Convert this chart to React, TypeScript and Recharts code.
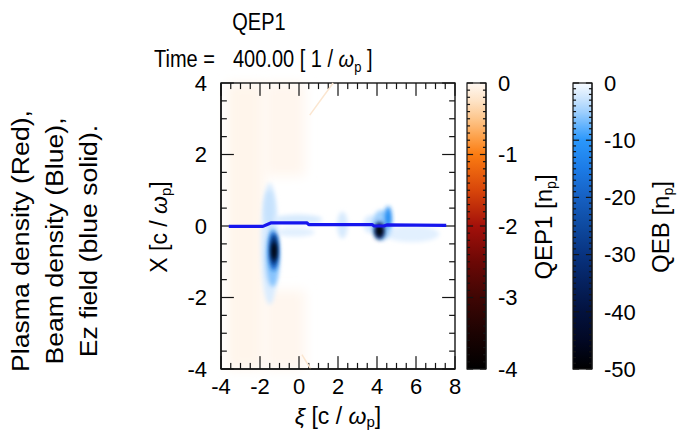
import { ComposedChart, Line, Area, XAxis, YAxis, ReferenceArea } from 'recharts'

const FONT = '"Liberation Sans", Arial, Helvetica, sans-serif'
const INK = 'rgb(20,20,20)'
const BLACK = 'rgb(0,0,0)'

// Ez field lineout (blue solid): xi -> X
const ezXi = [-3.6, -1.85, -1.6, -1.42, 0.4, 0.5, 3.75, 3.85, 4.35, 4.5, 7.55]
const ezX = [-0.01, -0.01, 0.05, 0.09, 0.09, 0.04, 0.04, 0.0, 0.0, 0.03, 0.02]

// faint plasma sheath traces (QEP1)
const sheathTopXi = [0.55, 1.75]
const sheathTopX = [3.1, 4.0]
const sheathBotXi = [0.15, 0.6]
const sheathBotX = [-3.6, -4.0]

// beam density patches (QEB), ranges in xi / X, value in n_p
const beamPatches = [
  { xi: [-1.95, -1.05], x: [-2.2, 1.2], q: -1.8 },
  { xi: [-1.8, -1.25], x: [-0.1, 1.0], q: -3 },
  { xi: [-1.7, -1.0], x: [-1.7, -0.05], q: -6 },
  { xi: [-1.3, 1.2], x: [0.05, 0.32], q: -2 },
  { xi: [-1.2, 0.8], x: [-0.3, -0.05], q: -1.3 },
  { xi: [1.95, 2.5], x: [-0.35, 0.4], q: -2 },
  { xi: [3.3, 4.0], x: [-0.2, 0.3], q: -1.8 },
  { xi: [4.4, 7.2], x: [-0.45, 0.0], q: -1.3 },
  { xi: [-1.55, -1.05], x: [-1.25, -0.15], q: -18 },
  { xi: [-1.45, -1.12], x: [-1.1, -0.25], q: -35 },
  { xi: [-1.4, -1.15], x: [-0.95, -0.45], q: -50 },
  { xi: [3.75, 4.75], x: [-0.4, 0.45], q: -5 },
  { xi: [4.4, 4.75], x: [-0.05, 0.55], q: -12 },
  { xi: [3.85, 4.4], x: [-0.38, 0.12], q: -30 },
  { xi: [3.95, 4.3], x: [-0.3, 0.02], q: -50 },
]

// plasma density patches (QEP1)
const plasmaPatches = [
  { xi: [-3.7, -1.8], x: [-4, 4], q: -0.04 },
  { xi: [-1.8, 0.3], x: [1.4, 4], q: -0.025 },
  { xi: [-1.8, 0.3], x: [-4, -1.8], q: -0.025 },
]

// tick labels
const xiLabels = [-4, -2, 0, 2, 4, 6, 8]
const xLabels = [-4, -2, 0, 2, 4]
const qep1Labels = [0, -1, -2, -3, -4]
const qebLabels = [0, -10, -20, -30, -40, -50]

// colour tables
const qep1Levels = [0, -0.25, -0.5, -0.75, -1, -1.5, -2, -2.5, -3, -3.5, -4]
const qep1Colors = ['#fff8f2', '#fee3c6', '#fdc68c', '#fda24c', '#fb7c12', '#d8460a', '#a3100a', '#6c0805', '#3f0604', '#1c0302', '#000000']
const qebLevels = [0, -2.5, -5, -7.5, -10, -15, -20, -25, -30, -35, -40, -45, -50]
const qebColors = ['#f7fbff', '#cfe6fd', '#a0d0fd', '#63b3fd', '#2a97fb', '#1c7be6', '#1660c2', '#0e4aa0', '#083380', '#05215e', '#03123e', '#020824', '#000000']

const range = (a: number, b: number, s: number) => {
  const out: number[] = []
  for (let v = a; v <= b + 1e-9; v += s) out.push(Math.round(v * 100) / 100)
  return out
}
const xiTicks = range(-4, 8, 0.5)
const xTicks = range(-4, 4, 0.5)
const qep1Ticks = range(-4, 0, 0.1)
const qebTicks = range(-50, 0, 1)

const isMajor = (v: number, majors: number[]) => majors.some((m) => Math.abs(m - v) < 1e-6)

function hex(c: string) {
  return [1, 3, 5].map((i) => parseInt(c.slice(i, i + 2), 16))
}
function rgb(c: number[]) {
  return `rgb(${c.map((v) => Math.round(v)).join(',')})`
}
function colorAt(levels: number[], colors: string[], q: number) {
  for (let i = 0; i < levels.length - 1; i++) {
    if (q <= levels[i] && q >= levels[i + 1]) {
      const t = (levels[i] - q) / (levels[i] - levels[i + 1])
      const a = hex(colors[i])
      const b = hex(colors[i + 1])
      return rgb(a.map((v, k) => v + (b[k] - v) * t))
    }
  }
  return rgb(hex(colors[colors.length - 1]))
}

// shapes for ReferenceArea
const blob = (p: any) => (
  <ellipse cx={p.x + p.width / 2} cy={p.y + p.height / 2} rx={p.width / 2} ry={p.height / 2}
    fill={p.fill} filter="url(#soft)" />
)
const haze = (p: any) => (
  <rect x={p.x} y={p.y} width={p.width} height={p.height} fill={p.fill} filter="url(#haze)" />
)
const frameShape = (w: number) => (p: any) => (
  <rect x={p.x} y={p.y} width={p.width} height={p.height} fill="none" stroke={INK} strokeWidth={w} />
)
const vTick = (p: any) => <rect x={p.x + p.width / 2 - 0.6} y={p.y} width={1.2} height={p.height} fill={INK} />
const hTick = (p: any) => <rect x={p.x} y={p.y + p.height / 2 - 0.6} width={p.width} height={1.2} fill={INK} />

// inward tick marks, each one a thin reference area
function tickAreas(
  prefix: string, ticks: number[], majors: number[], lens: number[], vertical: boolean,
  edge: number, dir: number, half: number, ax: { xAxisId: string; yAxisId: string },
) {
  return ticks.map((v) => {
    const len = isMajor(v, majors) ? lens[1] : lens[0]
    const a = Math.min(edge, edge + dir * len)
    const b = Math.max(edge, edge + dir * len)
    return vertical ? (
      <ReferenceArea key={prefix + v} {...ax} ifOverflow="visible" x1={v - half} x2={v + half} y1={a} y2={b} shape={vTick} />
    ) : (
      <ReferenceArea key={prefix + v} {...ax} ifOverflow="visible" x1={a} x2={b} y1={v - half} y2={v + half} shape={hTick} />
    )
  })
}

// inward tick lengths in data units (minor, major)
const XI_TICK = [0.3, 0.66]
const X_TICK = [0.17, 0.36]

function MainPlot() {
  const ez = ezXi.map((xi, i) => ({ xi, x: ezX[i] }))
  const top = sheathTopXi.map((xi, i) => ({ xi, x: sheathTopX[i] }))
  const bot = sheathBotXi.map((xi, i) => ({ xi, x: sheathBotX[i] }))
  const tickStyle = { fontSize: 22, fill: BLACK, fontFamily: FONT }
  const ids = { xAxisId: 'xb', yAxisId: 'yl' }
  const ax = { ...ids, ifOverflow: 'visible' as const }
  const ln = { ...ids, dataKey: 'x', dot: false, activeDot: false, isAnimationActive: false, type: 'linear' as const }
  return (
    <ComposedChart width={679} height={432} margin={{ top: 83, right: 224, bottom: 33, left: 161 }}>
      <defs>
        <filter id="soft" x="-60%" y="-60%" width="220%" height="220%">
          <feGaussianBlur stdDeviation="2.2" />
        </filter>
        <filter id="haze" x="-30%" y="-30%" width="160%" height="160%">
          <feGaussianBlur stdDeviation="6" />
        </filter>
      </defs>
      <XAxis xAxisId="xb" dataKey="xi" type="number" orientation="bottom" domain={[-4, 8]}
        ticks={xiLabels} interval={0} height={30} tickSize={4} tickMargin={5} tickLine={false}
        axisLine={{ stroke: INK, strokeWidth: 1.4 }} tick={tickStyle} />
      <YAxis yAxisId="yl" type="number" orientation="left" domain={[-4, 4]}
        ticks={xLabels} interval={0} width={60} tickSize={4} tickMargin={10} tickLine={false}
        axisLine={{ stroke: INK, strokeWidth: 1.4 }} tick={tickStyle} />
      {plasmaPatches.map((p, i) => (
        <ReferenceArea key={'p' + i} {...ax} x1={p.xi[0]} x2={p.xi[1]} y1={p.x[0]} y2={p.x[1]}
          fill={colorAt(qep1Levels, qep1Colors, p.q)} stroke="none" shape={haze} />
      ))}
      <Line {...ln} data={top} stroke="rgb(251,230,208)" strokeWidth={1.5} />
      <Line {...ln} data={bot} stroke="rgb(251,230,208)" strokeWidth={1.5} />
      {beamPatches.map((p, i) => (
        <ReferenceArea key={'b' + i} {...ax} x1={p.xi[0]} x2={p.xi[1]} y1={p.x[0]} y2={p.x[1]}
          fill={colorAt(qebLevels, qebColors, p.q)} stroke="none" shape={blob} />
      ))}
      <ReferenceArea {...ax} x1={-4} x2={8} y1={-4} y2={4} fill="none" shape={frameShape(1.4)} />
      {tickAreas('xb', xiTicks, xiLabels, X_TICK, true, -4, 1, 0.01, ids)}
      {tickAreas('xt', xiTicks, xiLabels, X_TICK, true, 4, -1, 0.01, ids)}
      {tickAreas('yl', xTicks, xLabels, XI_TICK, false, -4, 1, 0.005, ids)}
      {tickAreas('yr', xTicks, xLabels, XI_TICK, false, 8, -1, 0.005, ids)}
      <Line {...ln} data={ez} stroke="rgb(22,22,238)" strokeWidth={3.2} strokeLinejoin="round" />

      <g fontFamily={FONT} fill={BLACK}>
        <text transform="translate(259,30) scale(1,1.15)" textAnchor="middle" fontSize={20}>QEP1</text>
        <text transform="translate(154,67) scale(1,1.15)" fontSize={20}>Time =</text>
        <text transform="translate(233,67) scale(1,1.15)" fontSize={20}>
          400.00 [ 1 / <tspan fontStyle="italic">ω</tspan>
          <tspan fontSize={13} dy={4}>p</tspan>
          <tspan dy={-4}> ]</tspan>
        </text>
        <text transform="translate(29,241) rotate(-90) scale(1.11,1)" textAnchor="middle" fontSize={24}>Plasma density (Red),</text>
        <text transform="translate(63,241) rotate(-90) scale(1.11,1)" textAnchor="middle" fontSize={24}>Beam density (Blue),</text>
        <text transform="translate(97,241) rotate(-90) scale(1.11,1)" textAnchor="middle" fontSize={24}>Ez field (blue solid).</text>
        <text transform="translate(167,227) rotate(-90)" textAnchor="middle" fontSize={23}>
          X [c / <tspan fontStyle="italic">ω</tspan>
          <tspan fontSize={15} dy={4}>p</tspan>
          <tspan dy={-4}>]</tspan>
        </text>
        <text transform="translate(338,424)" textAnchor="middle" fontSize={23}>
          <tspan fontStyle="italic">ξ</tspan> [c / <tspan fontStyle="italic">ω</tspan>
          <tspan fontSize={15} dy={3}>p</tspan>
          <tspan dy={-3}>]</tspan>
        </text>
      </g>
    </ComposedChart>
  )
}

function ColorBar(props: {
  id: string
  left: number
  levels: number[]
  colors: string[]
  ticks: number[]
  labels: number[]
  title: string
  titleX: number
}) {
  const { id, left, levels, colors, ticks, labels, title, titleX } = props
  const lo = levels[levels.length - 1]
  const fillData = [{ c: 0, v: 0 }, { c: 1, v: 0 }]
  const ids = { xAxisId: 'cx', yAxisId: 'cy' }
  const half = -lo / 800
  return (
    <div style={{ position: 'absolute', left: 0, top: 0 }}>
      <ComposedChart width={679} height={432} margin={{ top: 83, right: 679 - left - 19 - 40, bottom: 63, left }}>
        <defs>
          <linearGradient id={id} x1="0" y1="0" x2="0" y2="1">
            {levels.map((l, i) => (
              <stop key={i} offset={l / lo} stopColor={rgb(hex(colors[i]))} />
            ))}
          </linearGradient>
        </defs>
        <XAxis xAxisId="cx" dataKey="c" hide type="number" domain={[0, 1]} />
        <YAxis yAxisId="cy" type="number" orientation="right" domain={[lo, 0]}
          ticks={labels} interval={0} width={40} tickSize={4} tickMargin={8} tickLine={false}
          axisLine={{ stroke: INK, strokeWidth: 1 }} tick={{ fontSize: 22, fill: BLACK, fontFamily: FONT }} />
        <Area {...ids} data={fillData} dataKey="v" baseValue={lo} type="linear"
          fill={`url(#${id})`} fillOpacity={1} stroke="none" dot={false} activeDot={false} isAnimationActive={false} />
        <ReferenceArea {...ids} ifOverflow="visible" x1={0} x2={1} y1={lo} y2={0} fill="none" shape={frameShape(1.2)} />
        {tickAreas('l', ticks, labels, [0.16, 0.32], false, 0, 1, half, ids)}
        {tickAreas('r', ticks, labels, [0.16, 0.32], false, 1, -1, half, ids)}
        <text transform={`translate(${titleX},227) rotate(-90)`} textAnchor="middle" fontSize={24} fontFamily={FONT} fill={BLACK}>
          {title} [n<tspan fontSize={14} dy={4}>p</tspan>
          <tspan dy={-4}>]</tspan>
        </text>
      </ComposedChart>
    </div>
  )
}

export default function App() {
  return (
    <div style={{ position: 'absolute', left: 0, top: 0, width: 679, height: 432, background: 'rgb(255,255,255)' }}>
      <div style={{ position: 'absolute', left: 0, top: 0 }}>
        <MainPlot />
      </div>
      <ColorBar id="gQEP1" left={467} levels={qep1Levels} colors={qep1Colors} ticks={qep1Ticks} labels={qep1Labels} title="QEP1" titleX={552} />
      <ColorBar id="gQEB" left={573} levels={qebLevels} colors={qebColors} ticks={qebTicks} labels={qebLabels} title="QEB" titleX={669} />
    </div>
  )
}
